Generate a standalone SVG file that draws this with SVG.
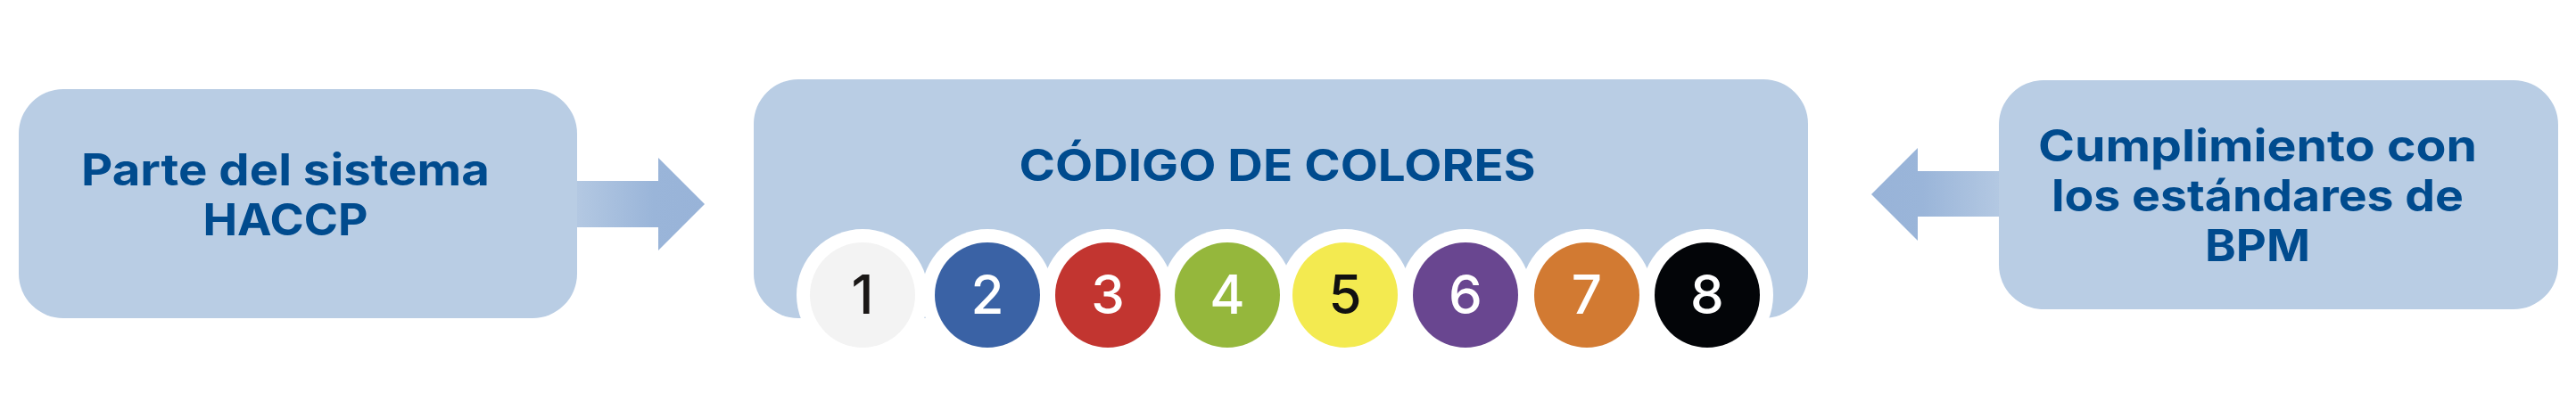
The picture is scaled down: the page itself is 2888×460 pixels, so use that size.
<svg xmlns="http://www.w3.org/2000/svg" width="2888" height="460" viewBox="0 0 2888 460">
  <defs>
    <linearGradient id="gR" x1="0" y1="0" x2="1" y2="0">
      <stop offset="0" stop-color="#b3c8e2"/>
      <stop offset="0.6" stop-color="#9ab5d9"/>
      <stop offset="1" stop-color="#98b3d8"/>
    </linearGradient>
    <linearGradient id="gL" x1="1" y1="0" x2="0" y2="0">
      <stop offset="0" stop-color="#b3c8e2"/>
      <stop offset="0.6" stop-color="#9ab5d9"/>
      <stop offset="1" stop-color="#98b3d8"/>
    </linearGradient>
  </defs>
  <style>
    .box { fill: #b9cde4; }
    .lbl { font-family: Inter, "Open Sans", "Liberation Sans", sans-serif; font-weight: 700; font-size: 49px; fill: #004b8e; text-anchor: middle; }
    .ring { fill: #ffffff; }
    .num { font-family: Inter, "Open Sans", "Liberation Sans", sans-serif; font-weight: 500; font-size: 60px; text-anchor: middle; }
  </style>
  <rect width="2888" height="460" fill="#ffffff"/>

  <g id="connectors">
    <path id="arrow-haccp" d="M647,203 H738 V177 L790,229 L738,281 V255 H647 Z" fill="url(#gR)"/>
    <path id="arrow-bpm" d="M2241,192 H2150 V166 L2098,218 L2150,270 V243 H2241 Z" fill="url(#gL)"/>
  </g>

  <g id="node-haccp">
    <rect class="box" x="21" y="100" width="626" height="257" rx="50" ry="50"/>
    <text class="lbl" x="320" y="208" textLength="458" lengthAdjust="spacingAndGlyphs">Parte del sistema</text>
    <text class="lbl" x="320" y="264" textLength="185" lengthAdjust="spacingAndGlyphs">HACCP</text>
  </g>

  <g id="node-codigo">
    <rect class="box" x="845" y="89" width="1182" height="268" rx="50" ry="50"/>
    <text class="lbl" x="1432" y="203" textLength="579" lengthAdjust="spacingAndGlyphs">CÓDIGO DE COLORES</text>
    <g id="rings">
      <circle class="ring" cx="967" cy="331" r="74"/>
      <circle class="ring" cx="1107" cy="331" r="74"/>
      <circle class="ring" cx="1242" cy="331" r="74"/>
      <circle class="ring" cx="1376" cy="331" r="74"/>
      <circle class="ring" cx="1508" cy="331" r="74"/>
      <circle class="ring" cx="1643" cy="331" r="74"/>
      <circle class="ring" cx="1779" cy="331" r="74"/>
      <circle class="ring" cx="1914" cy="331" r="74"/>
    </g>
    <g id="color-1"><circle cx="967" cy="331" r="59" fill="#f3f3f3"/><text class="num" x="967" y="352" fill="#1a1716">1</text></g>
    <g id="color-2"><circle cx="1107" cy="331" r="59" fill="#3a62a5"/><text class="num" x="1107" y="352" fill="#ffffff">2</text></g>
    <g id="color-3"><circle cx="1242" cy="331" r="59" fill="#c23530"/><text class="num" x="1242" y="352" fill="#ffffff">3</text></g>
    <g id="color-4"><circle cx="1376" cy="331" r="59" fill="#95b73c"/><text class="num" x="1376" y="352" fill="#ffffff">4</text></g>
    <g id="color-5"><circle cx="1508" cy="331" r="59" fill="#f3ea50"/><text class="num" x="1508" y="352" fill="#111111">5</text></g>
    <g id="color-6"><circle cx="1643" cy="331" r="59" fill="#694690"/><text class="num" x="1643" y="352" fill="#ffffff">6</text></g>
    <g id="color-7"><circle cx="1779" cy="331" r="59" fill="#d27a32"/><text class="num" x="1779" y="352" fill="#ffffff">7</text></g>
    <g id="color-8"><circle cx="1914" cy="331" r="59" fill="#030508"/><text class="num" x="1914" y="352" fill="#ffffff">8</text></g>
  </g>

  <g id="node-bpm">
    <rect class="box" x="2241" y="90" width="627" height="257" rx="50" ry="50"/>
    <text class="lbl" x="2531" y="181" textLength="492" lengthAdjust="spacingAndGlyphs">Cumplimiento con</text>
    <text class="lbl" x="2531" y="237" textLength="462" lengthAdjust="spacingAndGlyphs">los estándares de</text>
    <text class="lbl" x="2531" y="293" textLength="118" lengthAdjust="spacingAndGlyphs">BPM</text>
  </g>
</svg>
